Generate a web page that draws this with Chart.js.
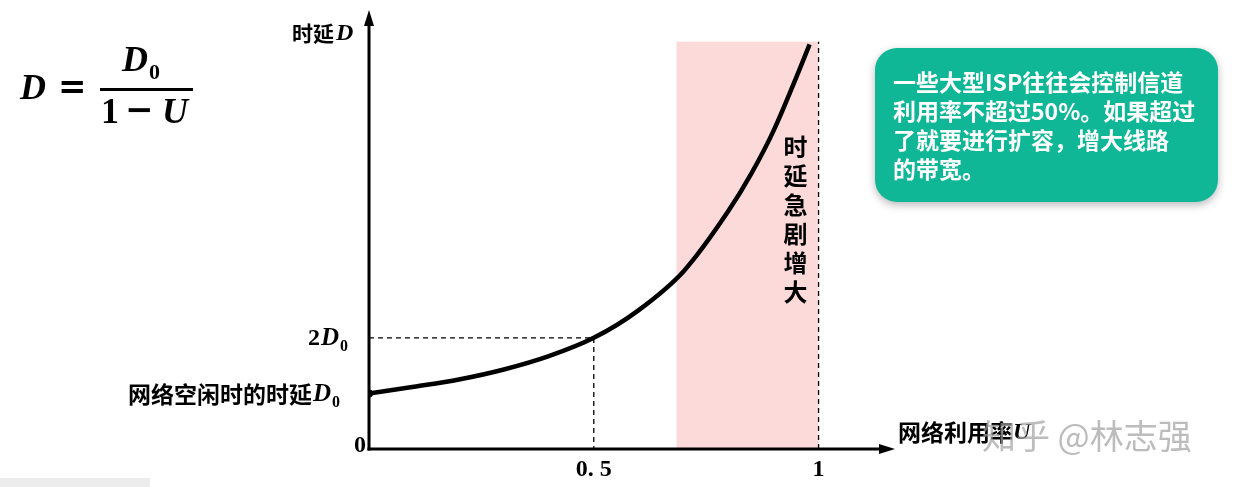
<!DOCTYPE html>
<html>
<head>
<meta charset="utf-8">
<script src="https://cdn.jsdelivr.net/npm/chart.js@4.4.0/dist/chart.umd.min.js"></script>
<style>
  body { margin: 0; background: #fff; }
  canvas { display: block; }
</style>
</head>
<body>
<canvas id="chart" width="1245" height="487"></canvas>
<script>
// curve: utilization U vs delay (in units of D0)
const utilization = [0, 0.1, 0.2, 0.3, 0.4, 0.5, 0.6, 0.7, 0.8, 0.85, 0.9, 0.95, 0.98];
const delay = [1.0, 1.12, 1.25, 1.43, 1.67, 2.0, 2.5, 3.2, 4.29, 4.95, 5.73, 6.68, 7.28];

const xTicks = [0.5, 1];
const xTickLabels = ['0. 5', '1'];
const guideU = [0, 0.5, 0.5];
const guideD = [2, 2, 0];
const limitU = [1, 1];
const limitD = [0, 7.33];
const band = [0.684, 1.0];
const bandTop = 7.33;
const xMax = 1.17;
const yMax = 7.9;

const CJK = '"Noto Sans CJK SC", sans-serif';
const SERIF = '"Liberation Serif", serif';

function toPoints(xs, ys) {
    return xs.map((v, i) => ({ x: v, y: ys[i] }));
}

// italic D with a small upright 0 as subscript, returns end x
function drawDSub(ctx, x, y, size, withSub) {
    ctx.font = 'italic bold ' + size + 'px ' + SERIF;
    ctx.textBaseline = 'middle';
    ctx.textAlign = 'left';
    ctx.fillText('D', x, y);
    let w = ctx.measureText('D').width;
    if (withSub) {
        ctx.font = 'bold ' + Math.round(size * 0.62) + 'px ' + SERIF;
        ctx.fillText('0', x + w + 1, y + size * 0.32);
        w += ctx.measureText('0').width + 1;
    }
    return x + w;
}

function arrow(ctx, x1, y1, x2, y2) {
    const a = Math.atan2(y2 - y1, x2 - x1);
    ctx.beginPath();
    ctx.moveTo(x1, y1);
    ctx.lineTo(x2 - 10 * Math.cos(a), y2 - 10 * Math.sin(a));
    ctx.stroke();
    ctx.beginPath();
    ctx.moveTo(x2, y2);
    ctx.lineTo(x2 - 16 * Math.cos(a) + 5 * Math.sin(a), y2 - 16 * Math.sin(a) - 5 * Math.cos(a));
    ctx.lineTo(x2 - 16 * Math.cos(a) - 5 * Math.sin(a), y2 - 16 * Math.sin(a) + 5 * Math.cos(a));
    ctx.closePath();
    ctx.fill();
}

const diagram = {
    id: 'diagram',
    beforeDatasetsDraw(chart) {
        const { ctx, scales: { x, y } } = chart;
        const l = x.getPixelForValue(band[0]);
        const r = x.getPixelForValue(band[1]);
        const t = y.getPixelForValue(bandTop);
        const b = y.getPixelForValue(0);
        ctx.save();
        ctx.fillStyle = '#fcdada';
        ctx.fillRect(l, t, r - l, b - t);
        ctx.restore();
    },
    afterDatasetsDraw(chart) {
        const { ctx, scales: { x, y } } = chart;
        const x0 = x.getPixelForValue(0);
        const y0 = y.getPixelForValue(0);
        ctx.save();
        ctx.strokeStyle = '#000';
        ctx.fillStyle = '#000';
        ctx.lineWidth = 3;
        arrow(ctx, x0, y0 + 1.5, x0, y.getPixelForValue(yMax));
        arrow(ctx, x0 - 1.5, y0, x.getPixelForValue(xMax), y0);

        // x ticks
        ctx.font = 'bold 24px ' + SERIF;
        ctx.textAlign = 'center';
        ctx.textBaseline = 'middle';
        xTicks.forEach((v, i) => ctx.fillText(xTickLabels[i], x.getPixelForValue(v), y0 + 21));
        ctx.textAlign = 'right';
        ctx.fillText('0', x0 - 3, y0 - 3);

        // y labels
        ctx.font = 'bold 24px ' + SERIF;
        ctx.textAlign = 'left';
        ctx.fillText('2', 308, y.getPixelForValue(2) + 1);
        drawDSub(ctx, 321, y.getPixelForValue(2) + 1, 25, true);

        ctx.font = 'bold 23px ' + CJK;
        ctx.textAlign = 'left';
        ctx.textBaseline = 'middle';
        ctx.fillText('网络空闲时的时延', 128, y.getPixelForValue(1) + 1);
        drawDSub(ctx, 128 + ctx.measureText('网络空闲时的时延').width + 1, y.getPixelForValue(1) + 1, 25, true);

        ctx.font = 'bold 21px ' + CJK;
        ctx.fillText('时延', 292, 33);
        drawDSub(ctx, 336, 34, 24, false);

        ctx.font = 'bold 23px ' + CJK;
        ctx.fillText('网络利用率', 898, 432);
        const ux = 898 + ctx.measureText('网络利用率').width;
        ctx.font = 'italic bold 24px ' + SERIF;
        ctx.fillText('U', ux, 433);
        ctx.restore();
    },
    afterDraw(chart) {
        const { ctx, scales: { x } } = chart;
        ctx.save();

        // vertical caption in the band
        ctx.fillStyle = '#000';
        ctx.font = 'bold 24px ' + CJK;
        ctx.textAlign = 'center';
        ctx.textBaseline = 'middle';
        const cx = x.getPixelForValue(band[1]) - 23;
        '时延急剧增大'.split('').forEach((ch, i) => ctx.fillText(ch, cx, 147 + i * 29));

        // formula
        ctx.textAlign = 'left';
        drawDSub(ctx, 20, 90, 36, false);
        ctx.font = 'bold 34px "DejaVu Sans", sans-serif';
        ctx.fillText('=', 58, 89);
        ctx.fillRect(100, 88, 93, 3);
        drawDSub(ctx, 122, 62, 36, true);
        ctx.font = 'bold 36px ' + SERIF;
        ctx.fillText('1', 101, 114);
        ctx.font = 'bold 34px "DejaVu Sans", sans-serif';
        ctx.fillText('\u2212', 125, 112);
        ctx.font = 'italic bold 36px ' + SERIF;
        ctx.fillText('U', 162, 114);

        // note box
        ctx.save();
        ctx.shadowColor = 'rgba(0,0,0,0.28)';
        ctx.shadowBlur = 8;
        ctx.shadowOffsetY = 3;
        ctx.fillStyle = '#0fb796';
        ctx.beginPath();
        ctx.roundRect(875, 48, 343, 154, 22);
        ctx.fill();
        ctx.restore();
        ctx.fillStyle = '#fff';
        ctx.font = 'bold 23px ' + CJK;
        ctx.textAlign = 'left';
        ctx.textBaseline = 'middle';
        ['一些大型ISP往往会控制信道', '利用率不超过50%。如果超过', '了就要进行扩容，增大线路', '的带宽。']
            .forEach((s, i) => ctx.fillText(s, 893, 82 + i * 29));

        // watermark
        ctx.fillStyle = 'rgba(160,160,160,0.7)';
        ctx.font = '34px ' + CJK;
        ctx.fillText('知乎 @林志强', 982, 436);

        // faint strip bottom-left
        ctx.fillStyle = '#ececec';
        ctx.fillRect(0, 478, 150, 9);
        ctx.restore();
    }
};

new Chart(document.getElementById('chart'), {
    type: 'line',
    data: {
        datasets: [
            {
                data: toPoints(utilization, delay),
                borderColor: '#000',
                borderWidth: 4.5,
                cubicInterpolationMode: 'monotone',
                pointRadius: utilization.map((v, i) => (i === 0 ? 4 : 0)),
                pointBackgroundColor: '#000',
                pointBorderWidth: 0,
                fill: false
            },
            {
                data: toPoints(guideU, guideD),
                borderColor: '#000',
                borderWidth: 1.3,
                borderDash: [5, 4],
                pointRadius: 0,
                fill: false
            },
            {
                data: toPoints(limitU, limitD),
                borderColor: '#000',
                borderWidth: 1.3,
                borderDash: [5, 4],
                pointRadius: 0,
                fill: false
            }
        ]
    },
    options: {
        responsive: false,
        animation: false,
        layout: { padding: { left: 369, right: 350, top: 10, bottom: 38 } },
        plugins: {
            legend: { display: false },
            tooltip: { enabled: false }
        },
        scales: {
            x: { type: 'linear', display: false, min: 0, max: xMax },
            y: { type: 'linear', display: false, min: 0, max: yMax }
        }
    },
    plugins: [diagram]
});
</script>
</body>
</html>
